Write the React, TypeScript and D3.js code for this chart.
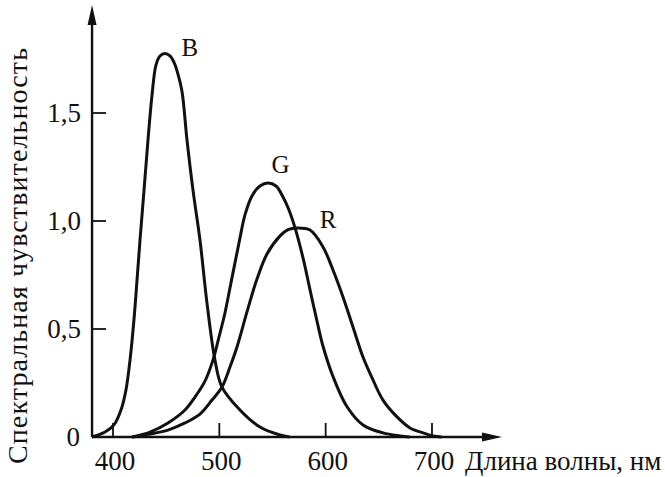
import React from 'react';
import * as d3 from 'd3';

// wavelength (nm), relative sensitivity
const bWave = [380, 392.5, 400.9, 407.5, 412.2, 416, 419.7, 422.6, 425.4, 429.2, 432.9, 436.7, 440.4, 444.2, 448.9, 453.6, 457.8, 461.1, 464.9, 469.6, 475.2, 481.8, 488.4, 495.9, 502.5, 519.4, 538.2, 557, 566];
const bValue = [0, 0.023, 0.056, 0.125, 0.218, 0.356, 0.542, 0.727, 0.912, 1.144, 1.375, 1.583, 1.722, 1.764, 1.775, 1.764, 1.73, 1.68, 1.6, 1.375, 1.144, 0.912, 0.62, 0.356, 0.231, 0.125, 0.046, 0.009, 0];

const gWave = [418, 434.8, 451.7, 467.7, 477.1, 486.5, 494, 499.7, 505.3, 510, 514.7, 519.4, 524.1, 530.7, 538.2, 545.8, 553.3, 559.9, 565.5, 571.2, 578.7, 585.3, 591.9, 597.5, 606.9, 620.1, 635.1, 653.9, 669.9, 679];
const gValue = [0, 0.023, 0.065, 0.125, 0.185, 0.259, 0.356, 0.463, 0.574, 0.69, 0.806, 0.921, 1.028, 1.116, 1.162, 1.176, 1.162, 1.111, 1.051, 0.968, 0.829, 0.681, 0.535, 0.42, 0.28, 0.14, 0.056, 0.019, 0.005, 0];

const rWave = [418, 434.8, 451.7, 467.7, 481.8, 493.1, 502.5, 510, 516.6, 526, 535.4, 544.8, 557.1, 564.6, 573, 585.3, 597.5, 606.9, 616.3, 625.7, 635.1, 644.5, 653.9, 667.1, 679.3, 691.5, 701, 709];
const rValue = [0, 0.014, 0.032, 0.065, 0.106, 0.171, 0.231, 0.324, 0.417, 0.579, 0.731, 0.847, 0.931, 0.96, 0.968, 0.958, 0.88, 0.773, 0.648, 0.509, 0.37, 0.264, 0.171, 0.093, 0.042, 0.019, 0.005, 0];

const xTicks = [400, 500, 600, 700];
const yTicks = [0.5, 1.0, 1.5];
const yTickLabels = ['0,5', '1,0', '1,5'];

const curves = [
  { name: 'B', wave: bWave, value: bValue, labelAt: [464.5, 1.764] },
  { name: 'G', wave: gWave, value: gValue, labelAt: [549, 1.222] },
  { name: 'R', wave: rWave, value: rValue, labelAt: [594.5, 0.968] },
];

const font = '"Liberation Serif", "DejaVu Serif", serif';

export default function App() {
  const x = d3.scaleLinear().domain([400, 700]).range([113, 432]);
  const y = d3.scaleLinear().domain([0, 1.5]).range([437, 113]);
  const x0 = x(380.3);
  const y0 = y(0);
  const xEnd = 502;
  const yEnd = 5;

  const line = d3
    .line<[number, number]>()
    .x((d) => x(d[0]))
    .y((d) => y(d[1]))
    .curve(d3.curveCatmullRom.alpha(0.5));

  return (
    <svg
      width={665}
      height={477}
      style={{ position: 'absolute', left: 0, top: 0, background: '#fff' }}
      fontFamily={font}
    >
      {/* axes */}
      <line x1={x0} y1={y0} x2={xEnd - 10} y2={y0} stroke="#111" strokeWidth={2.4} />
      <line x1={x0} y1={y0} x2={x0} y2={yEnd + 10} stroke="#111" strokeWidth={2.4} />
      <path d={`M${xEnd},${y0} L${xEnd - 20},${y0 - 4.5} L${xEnd - 20},${y0 + 4.5} Z`} fill="#111" />
      <path d={`M${x0},${yEnd} L${x0 - 4.5},${yEnd + 20} L${x0 + 4.5},${yEnd + 20} Z`} fill="#111" />

      {xTicks.map((t) => (
        <g key={t}>
          <line x1={x(t)} x2={x(t)} y1={y0} y2={y0 - 14} stroke="#111" strokeWidth={1.8} />
          <text x={x(t) + 2} y={470} fontSize={27} textAnchor="middle" fill="#111">
            {t}
          </text>
        </g>
      ))}
      {yTicks.map((t, i) => (
        <g key={t}>
          <line x1={x0} x2={x0 + 14} y1={y(t)} y2={y(t)} stroke="#111" strokeWidth={1.8} />
          <text x={81} y={y(t) + 9} fontSize={27} textAnchor="end" fill="#111">
            {yTickLabels[i]}
          </text>
        </g>
      ))}
      <text x={80} y={y0 + 9} fontSize={27} textAnchor="end" fill="#111">
        0
      </text>

      <text x={465} y={470} fontSize={27} fill="#111">
        Длина волны, нм
      </text>
      <text
        transform={`translate(27,256) rotate(-90)`}
        fontSize={28}
        textAnchor="middle"
        textLength={416}
        lengthAdjust="spacing"
        fill="#111"
      >
        Спектральная чувствительность
      </text>

      {curves.map((c) => (
        <g key={c.name}>
          <path
            d={line(c.wave.map((w, i) => [w, c.value[i]] as [number, number])) || ''}
            fill="none"
            stroke="#111"
            strokeWidth={3}
            strokeLinejoin="round"
          />
          <text x={x(c.labelAt[0])} y={y(c.labelAt[1])} fontSize={25} fill="#111">
            {c.name}
          </text>
        </g>
      ))}
    </svg>
  );
}
